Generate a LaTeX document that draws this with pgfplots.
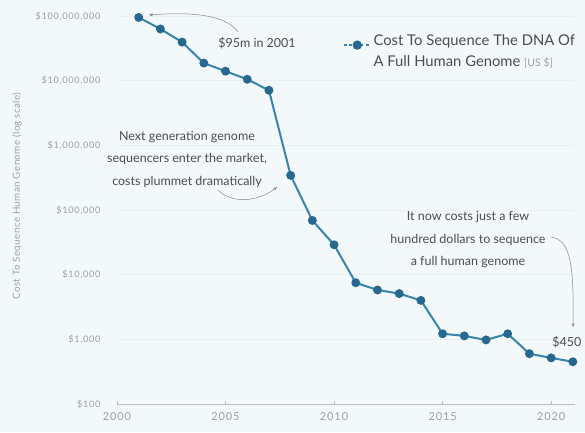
\documentclass[border=0pt]{standalone}
\usepackage{pgfplots}
\pgfplotsset{compat=1.18}
\usetikzlibrary{arrows.meta}
\usepackage{fontspec}
\setmainfont{Lato}
\newfontfamily\tickfont[LetterSpace=8]{Lato}
\newfontfamily\labfont[LetterSpace=4]{Lato}

\definecolor{bg}{RGB}{243,248,250}
\definecolor{gridc}{RGB}{233,240,243}
\definecolor{lineblue}{RGB}{56,132,172}
\definecolor{markblue}{RGB}{38,104,142}
\definecolor{ticktext}{RGB}{155,160,163}
\definecolor{notetext}{RGB}{75,77,79}
\definecolor{arrowgray}{RGB}{130,134,136}

\pgfplotstableread{
year cost
2001 95000000
2002 63000000
2003 39500000
2004 18700000
2005 14000000
2006 10500000
2007 7100000
2008 343000
2009 69000
2010 29000
2011 7500
2012 5800
2013 5100
2014 4000
2015 1220
2016 1130
2017 980
2018 1220
2019 600
2020 516
2021 450
}\genomecost

\begin{document}
\begin{tikzpicture}[x=1pt,y=1pt]
\useasboundingbox (0,0) rectangle (585,432);
\fill[bg] (0,0) rectangle (585,432);

\begin{axis}[
    at={(117pt,28pt)}, anchor=south west,
    scale only axis,
    width=458pt, height=388pt,
    xmin=2000, xmax=2021.1,
    ymode=log, ymin=100, ymax=1e8,
    axis y line*=left,
    axis x line*=bottom,
    y axis line style={draw=none},
    x axis line style={-, draw=ticktext!70, line width=0.8pt},
    xtick={2000,2005,2010,2015,2020},
    xticklabels={2000,2005,2010,2015,2020},
    ytick={1e2,1e3,1e4,1e5,1e6,1e7,1e8},
    yticklabels={\$100,\$1{,}000,\$10{,}000,\$100{,}000,\$1{,}000{,}000,\$10{,}000{,}000,\$100{,}000{,}000},
    tick align=inside,
    major tick length=3pt,
    xtick style={draw=ticktext!70, line width=0.6pt},
    ytick style={draw=none},
    ymajorgrids,
    grid style={draw=gridc, line width=0.8pt},
    /pgf/number format/assume math mode=true,
    tick label style={font=\tickfont\fontsize{9.1}{10}\selectfont, text=ticktext},
    yticklabel style={anchor=east, xshift=-13pt},
    xticklabel style={yshift=-5pt, font=\tickfont\fontsize{11}{12}\selectfont},
    clip=false,
    legend style={at={(0.493,0.925)}, anchor=west, draw=none, fill=none,
        font=\fontsize{14.8}{19}\selectfont, text=notetext, inner sep=0pt},
    legend cell align=left,
    legend image code/.code={
        \draw[lineblue, line width=1.6pt, dash pattern=on 3pt off 2.5pt] (0pt,0pt) -- (27pt,0pt);
        \fill[markblue] (13.5pt,0pt) circle (3.6pt);
    },
]
\addplot[lineblue, line width=2pt, mark=*, mark size=3.4pt,
    mark options={fill=markblue, draw=markblue}] table[x=year, y=cost] {\genomecost};
\addlegendentry{\begin{tabular}{@{}l@{}}Cost To Sequence The DNA Of\\[2pt]A Full Human Genome {\fontsize{10.5}{11}\selectfont\color{ticktext}[US \$]}\end{tabular}}
\end{axis}

% axis title
\node[rotate=90, text=ticktext, font=\labfont\fontsize{9.8}{11}\selectfont] at (17,236)
    {Cost To Sequence Human Genome (log scale)};

% annotations
\node[text=notetext, font=\fontsize{12.5}{13}\selectfont] at (257,389) {\$95m in 2001};
\draw[arrowgray, line width=0.5pt, -{Stealth[length=4pt,width=3pt]}]
    (238,400) .. controls (225,418) and (190,420) .. (149,417);

\node[text=notetext, font=\fontsize{12.5}{22.5}\selectfont, align=center] at (187,273)
    {Next generation genome\\sequencers enter the market,\\costs plummet dramatically};
\draw[arrowgray, line width=0.5pt, -{Stealth[length=4pt,width=3pt]}]
    (218,242) .. controls (232,228) and (258,230) .. (277,245);

\node[text=notetext, font=\fontsize{12.5}{22.5}\selectfont, align=center] at (468,192)
    {It now costs just a few\\hundred dollars to sequence\\a full human genome};
\draw[arrowgray, line width=0.5pt, -{Stealth[length=4pt,width=3pt]}]
    (551,195) .. controls (570,192) and (574,170) .. (573,105);

\node[text=notetext, font=\fontsize{12.5}{13}\selectfont, anchor=east] at (585,90) {\$450};
\end{tikzpicture}
\end{document}
